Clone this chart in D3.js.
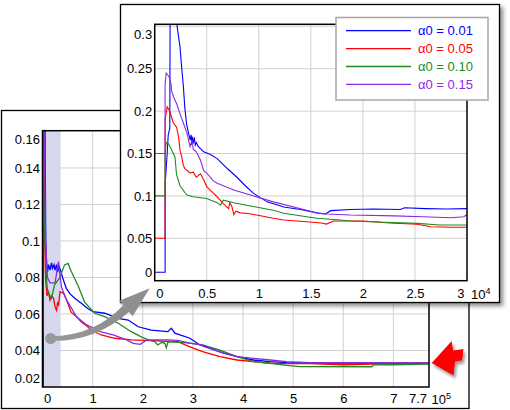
<!DOCTYPE html>
<html><head><meta charset="utf-8">
<script src="https://cdn.jsdelivr.net/npm/d3@7"></script>
<style>
html,body{margin:0;padding:0;background:#fff;}
svg{display:block;font-family:"Liberation Sans",Arial,sans-serif;}
</style></head>
<body>
<svg id="chart" width="510" height="410"></svg>
<script>
// ---------- data ----------
const seriesNames = ["α0 = 0.01", "α0 = 0.05", "α0 = 0.10", "α0 = 0.15"];
const seriesColors = ["#0000ff", "#ff0000", "#1f8a1f", "#8a2be2"];

// main (full run) chart, x in units of 10^5
const mainXTicks = [0, 1, 2, 3, 4, 5, 6, 7, 7.7];
const mainXTickLabels = ["0", "1", "2", "3", "4", "5", "6", "7", "7.7"];
const mainYTicks = [0.02, 0.04, 0.06, 0.08, 0.1, 0.12, 0.14, 0.16];
const mainYTickLabels = ["0.02", "0.04", "0.06", "0.08", "0.1", "0.12", "0.14", "0.16"];
const mainShadeEnd = 0.363;

const mainBlue = [[0,0],[0.015,0],[0.02,0.3],[0.04,0.22],[0.055,0.14],[0.065,0.1],[0.08,0.088],[0.1,0.083],[0.12,0.087],[0.15,0.084],[0.18,0.088],[0.2,0.085],[0.23,0.087],[0.25,0.084],[0.28,0.087],[0.3,0.083],[0.33,0.086],[0.36,0.084],[0.4,0.08],[0.475,0.074],[0.55,0.071],[0.643,0.0686],[0.775,0.0659],[0.9,0.063],[1.01,0.0613],[1.24,0.0604],[1.51,0.0576],[1.71,0.0567],[1.91,0.053],[2.17,0.0512],[2.5,0.0503],[2.57,0.0522],[2.64,0.0495],[2.94,0.0467],[3.14,0.043],[3.34,0.0412],[3.61,0.0385],[3.88,0.0366],[4.21,0.0348],[4.54,0.0339],[4.87,0.0333],[5.34,0.0331],[6.0,0.0331],[7.71,0.033]];
const mainRed = [[0,0.05],[0.01,0.05],[0.012,0.2],[0.03,0.14],[0.045,0.1],[0.06,0.08],[0.09,0.07],[0.12,0.072],[0.15,0.0677],[0.18,0.07],[0.22,0.0686],[0.25,0.064],[0.28,0.062],[0.3,0.066],[0.32,0.065],[0.35,0.0722],[0.42,0.0713],[0.48,0.0677],[0.57,0.061],[0.68,0.0585],[0.77,0.0558],[0.88,0.0535],[0.97,0.0512],[1.17,0.0485],[1.44,0.0467],[1.77,0.0458],[2.17,0.0454],[2.7,0.0448],[2.94,0.042],[3.21,0.0393],[3.54,0.0366],[3.88,0.0348],[4.21,0.0339],[4.54,0.033],[4.87,0.0328],[5.34,0.0328],[6.0,0.0322],[6.6,0.0326],[7.71,0.033]];
const mainGreen = [[0,0.1],[0.01,0.1],[0.012,0.163],[0.03,0.12],[0.05,0.1],[0.07,0.085],[0.09,0.075],[0.11,0.072],[0.18,0.0686],[0.24,0.076],[0.34,0.0796],[0.44,0.0869],[0.51,0.0877],[0.57,0.0835],[0.71,0.0755],[0.84,0.0665],[1.04,0.0604],[1.24,0.0585],[1.51,0.0549],[1.77,0.0503],[1.97,0.0475],[2.11,0.0458],[2.24,0.0448],[2.3,0.043],[2.38,0.0445],[2.44,0.0439],[2.47,0.0415],[2.5,0.0445],[2.57,0.0448],[2.94,0.044],[3.21,0.043],[3.54,0.0402],[3.88,0.0366],[4.21,0.0339],[4.54,0.033],[4.87,0.0318],[5.14,0.0312],[6.57,0.0311],[6.6,0.0321],[7.0,0.0322],[7.71,0.0325]];
const mainPurple = [[0,0.15],[0.01,0.15],[0.012,0.24],[0.03,0.2],[0.05,0.13],[0.06,0.1],[0.07,0.095],[0.1,0.08],[0.15,0.077],[0.25,0.077],[0.28,0.082],[0.3,0.086],[0.32,0.0887],[0.34,0.083],[0.38,0.0745],[0.48,0.0677],[0.68,0.0585],[0.88,0.054],[1.15,0.0503],[1.41,0.0485],[1.68,0.0458],[1.81,0.0439],[1.95,0.0434],[2.08,0.0458],[2.48,0.0458],[2.7,0.0455],[2.94,0.044],[3.2,0.043],[3.54,0.0393],[3.88,0.0366],[4.21,0.0357],[4.54,0.0348],[4.87,0.0339],[5.34,0.0334],[6.0,0.0333],[7.71,0.0332]];

// inset (zoomed) chart, x in units of 10^4
const insetXTicks = [0, 0.5, 1, 1.5, 2, 2.5, 3];
const insetXTickLabels = ["0", "0.5", "1", "1.5", "2", "2.5", "3"];
const insetYTicks = [0, 0.05, 0.1, 0.15, 0.2, 0.25, 0.3];
const insetYTickLabels = ["0", "0.05", "0.1", "0.15", "0.2", "0.25", "0.3"];

const insetBlue = [[0,0.01],[0.1,0.01],[0.1,0.113],[0.12,0.15],[0.13,0.172],[0.145,0.18],[0.15,0.4],[0.21,0.4],[0.215,0.3],[0.243,0.276],[0.26,0.25],[0.275,0.23],[0.29,0.203],[0.307,0.184],[0.34,0.166],[0.35,0.172],[0.355,0.16],[0.36,0.17],[0.37,0.162],[0.38,0.169],[0.39,0.16],[0.4,0.163],[0.42,0.158],[0.47,0.152],[0.53,0.149],[0.6,0.144],[0.7,0.132],[0.79,0.122],[0.87,0.112],[0.95,0.103],[1.08,0.093],[1.24,0.087],[1.4,0.084],[1.56,0.08],[1.64,0.0787],[1.69,0.0826],[1.88,0.084],[2.1,0.0845],[2.36,0.084],[2.4,0.086],[2.6,0.085],[2.8,0.0845],[3.0,0.085]];
const insetRed = [[0,0.05],[0.1,0.05],[0.1,0.19],[0.12,0.205],[0.14,0.201],[0.18,0.186],[0.21,0.181],[0.23,0.169],[0.243,0.154],[0.26,0.146],[0.275,0.136],[0.29,0.132],[0.34,0.127],[0.37,0.128],[0.4,0.122],[0.44,0.126],[0.47,0.119],[0.5,0.111],[0.6,0.099],[0.66,0.091],[0.71,0.085],[0.72,0.092],[0.74,0.088],[0.76,0.078],[0.78,0.082],[0.82,0.08],[0.88,0.0795],[0.98,0.0775],[1.14,0.0736],[1.24,0.0716],[1.46,0.0696],[1.6,0.068],[1.65,0.0668],[1.72,0.0704],[2.0,0.0704],[2.26,0.068],[2.52,0.0665],[2.65,0.0637],[2.84,0.063],[3.0,0.063]];
const insetGreen = [[0,0.1],[0.1,0.1],[0.1,0.15],[0.11,0.163],[0.13,0.162],[0.16,0.155],[0.195,0.146],[0.21,0.125],[0.243,0.112],[0.29,0.104],[0.31,0.101],[0.37,0.099],[0.5,0.097],[0.6,0.092],[0.63,0.089],[0.66,0.095],[0.76,0.092],[0.92,0.088],[1.14,0.083],[1.24,0.0795],[1.46,0.0755],[1.56,0.0736],[1.78,0.0716],[1.88,0.0704],[2.2,0.0689],[2.52,0.0676],[2.74,0.0657],[3.0,0.0657]];
const insetPurple = [[0,0.15],[0.1,0.15],[0.1,0.232],[0.11,0.245],[0.14,0.24],[0.16,0.23],[0.16,0.225],[0.18,0.217],[0.21,0.209],[0.243,0.197],[0.275,0.186],[0.31,0.174],[0.34,0.158],[0.36,0.166],[0.37,0.155],[0.4,0.152],[0.44,0.142],[0.47,0.13],[0.5,0.127],[0.56,0.118],[0.6,0.115],[0.76,0.107],[0.92,0.101],[1.14,0.093],[1.46,0.083],[1.56,0.0795],[1.65,0.0787],[1.88,0.0775],[2.3,0.0765],[2.58,0.0755],[2.84,0.0743],[2.97,0.0755],[3.0,0.078]];

const mainSeries = [mainBlue, mainRed, mainGreen, mainPurple];
const insetSeries = [insetBlue, insetRed, insetGreen, insetPurple];

// ---------- drawing ----------
const svg = d3.select("#chart");
const defs = svg.append("defs");
const f = defs.append("filter").attr("id","shadow").attr("x","-10%").attr("y","-10%").attr("width","130%").attr("height","130%");
f.append("feDropShadow").attr("dx",3).attr("dy",3).attr("stdDeviation",2).attr("flood-color","#000").attr("flood-opacity",0.45);
const f2 = defs.append("filter").attr("id","shadow2").attr("x","-30%").attr("y","-30%").attr("width","170%").attr("height","170%");
f2.append("feDropShadow").attr("dx",2).attr("dy",3).attr("stdDeviation",1.5).attr("flood-color","#000").attr("flood-opacity",0.4);

const FONT = 13;
const gridColor = "#d0d0d0";

function drawPlot(g, o) {
  const {x, y, xTicks, xLabels, yTicks, yLabels, series, clipId, xPad, shade} = o;
  const [x0, x1] = x.range(); const [y0, y1] = y.range(); // y0 bottom, y1 top
  defs.append("clipPath").attr("id", clipId).append("rect")
    .attr("x", x0).attr("y", y1).attr("width", x1 - x0).attr("height", y0 - y1);
  // grid
  g.append("g").selectAll("line").data(xTicks.filter(v => x(v) > x0 + 1 && x(v) < x1 - 1)).join("line")
    .attr("x1", d => x(d)).attr("x2", d => x(d)).attr("y1", y1).attr("y2", y0)
    .attr("stroke", gridColor).attr("stroke-width", 1);
  g.append("g").selectAll("line").data(yTicks.filter(v => y(v) < y0 - 1 && y(v) > y1 + 1)).join("line")
    .attr("x1", x0).attr("x2", x1).attr("y1", d => y(d)).attr("y2", d => y(d))
    .attr("stroke", gridColor).attr("stroke-width", 1);
  if (shade !== undefined) {
    g.append("rect").attr("x", x(0)).attr("y", y1).attr("width", x(shade) - x(0)).attr("height", y0 - y1)
      .attr("fill", "#d6d8ee");
  }
  const line = d3.line().x(d => x(d[0])).y(d => y(d[1]));
  const lg = g.append("g").attr("clip-path", `url(#${clipId})`);
  series.forEach((s, i) => {
    lg.append("path").datum(s).attr("d", line).attr("fill", "none")
      .attr("stroke", seriesColors[i]).attr("stroke-width", o.lw).attr("stroke-linejoin", "miter");
  });
  // frame
  g.append("rect").attr("x", x0).attr("y", y1).attr("width", x1 - x0).attr("height", y0 - y1)
    .attr("fill", "none").attr("stroke", "#000").attr("stroke-width", 1.5);
  // axes labels via d3 axes
  const ax = g.append("g").attr("transform", `translate(0,${y0})`)
    .call(d3.axisBottom(x).tickValues(xTicks).tickSize(0).tickPadding(xPad)
      .tickFormat((d, i) => xLabels[i]));
  ax.select(".domain").remove();
  ax.selectAll("text").attr("font-size", FONT).attr("font-family", "Liberation Sans, Arial, sans-serif").attr("fill", "#000");
  const xt = ax.selectAll(".tick text").nodes();
  d3.select(xt[0]).attr("text-anchor", "start").attr("dx", 1);
  d3.select(xt[xt.length - 1]).attr("text-anchor", "end").attr("dx", o.lastDx);
  const ay = g.append("g").attr("transform", `translate(${x0},0)`)
    .call(d3.axisLeft(y).tickValues(yTicks).tickSize(0).tickPadding(2.5)
      .tickFormat((d, i) => yLabels[i]));
  ay.select(".domain").remove();
  ay.selectAll("text").attr("font-size", FONT).attr("font-family", "Liberation Sans, Arial, sans-serif").attr("fill", "#000");
  const yt = ay.selectAll(".tick text").nodes();
  d3.select(yt[0]).attr("dy", "-0.35em");
  d3.select(yt[yt.length - 1]).attr("dy", "0.95em");
}

// ---- back (main) panel ----
const back = svg.append("g");
back.append("rect").attr("x", 1.5).attr("y", 110.5).attr("width", 467.5).attr("height", 298)
  .attr("fill", "#fff").attr("stroke", "#000").attr("stroke-width", 1.3);
const xM = d3.scaleLinear().domain([0, 7.71]).range([42.5, 429]);
const yM = d3.scaleLinear().domain([0.02, 0.1604]).range([387, 130.7]);
drawPlot(back, {x: xM, y: yM, xTicks: mainXTicks, xLabels: mainXTickLabels, yTicks: mainYTicks,
  yLabels: mainYTickLabels, series: mainSeries, clipId: "clipMain", xPad: 7, shade: mainShadeEnd, lw: 1.3, lastDx: -2});
const e5 = back.append("text").attr("x", 431.5).attr("y", 403.5).attr("font-size", FONT).attr("fill", "#000");
e5.append("tspan").text("10");
e5.append("tspan").attr("font-size", 9).attr("dy", -5).text("5");

// ---- inset panel ----
const inset = svg.append("g");
inset.append("rect").attr("x", 120.5).attr("y", 4.5).attr("width", 379).attr("height", 298)
  .attr("fill", "#fff").attr("stroke", "#000").attr("stroke-width", 1.3).attr("filter", "url(#shadow)");
const xI = d3.scaleLinear().domain([0, 3.0]).range([154.7, 467]);
const yI = d3.scaleLinear().domain([0, 0.3024]).range([280.7, 24.3]);
drawPlot(inset, {x: xI, y: yI, xTicks: insetXTicks, xLabels: insetXTickLabels, yTicks: insetYTicks,
  yLabels: insetYTickLabels, series: insetSeries, clipId: "clipInset", xPad: 8.4, lw: 1.1, lastDx: -3});
const e4 = inset.append("text").attr("x", 471).attr("y", 298.5).attr("font-size", FONT).attr("fill", "#000");
e4.append("tspan").text("10");
e4.append("tspan").attr("font-size", 9).attr("dy", -5).text("4");

// legend
const leg = inset.append("g");
leg.append("rect").attr("x", 336).attr("y", 17.5).attr("width", 152).attr("height", 82.5)
  .attr("fill", "#fff").attr("stroke", "#a8a8a8").attr("stroke-width", 1.5);
seriesNames.forEach((n, i) => {
  const ly = 30.7 + i * 17.9;
  leg.append("line").attr("x1", 346).attr("x2", 411).attr("y1", ly).attr("y2", ly)
    .attr("stroke", seriesColors[i]).attr("stroke-width", 1.3);
  leg.append("text").attr("x", 418).attr("y", ly + 4.6).attr("font-size", FONT)
    .attr("fill", seriesColors[i]).text(n);
});

// ---- gray connector arrow ----
const arr = svg.append("g");
const grad = defs.append("linearGradient").attr("id", "ag").attr("x1", "0").attr("y1", "0").attr("x2", "1").attr("y2", "0");
grad.append("stop").attr("offset", "0").attr("stop-color", "#9a9a9a");
grad.append("stop").attr("offset", "1").attr("stop-color", "#8c8c8c");
arr.append("path").attr("d", "M51,336.3 Q95,335.5 123,305.5 L129.5,311.5 Q95,342 51,340.8 Z")
  .attr("fill", "url(#ag)");
arr.append("circle").attr("cx", 50.7).attr("cy", 338.5).attr("r", 5.6).attr("fill", "#999");
arr.append("path").attr("d", "M119.3,300.8 L149.7,288.3 L132.7,316.2 Z").attr("fill", "#8f8f8f");

// ---- red pointer arrow ----
svg.append("path")
  .attr("d", "M431.7,363 L451.7,341 L453,350.5 L463.5,349 L462,360.5 L455,361.5 L453.5,375.5 Z")
  .attr("fill", "#ff0000").attr("filter", "url(#shadow2)");
</script>
</body></html>
